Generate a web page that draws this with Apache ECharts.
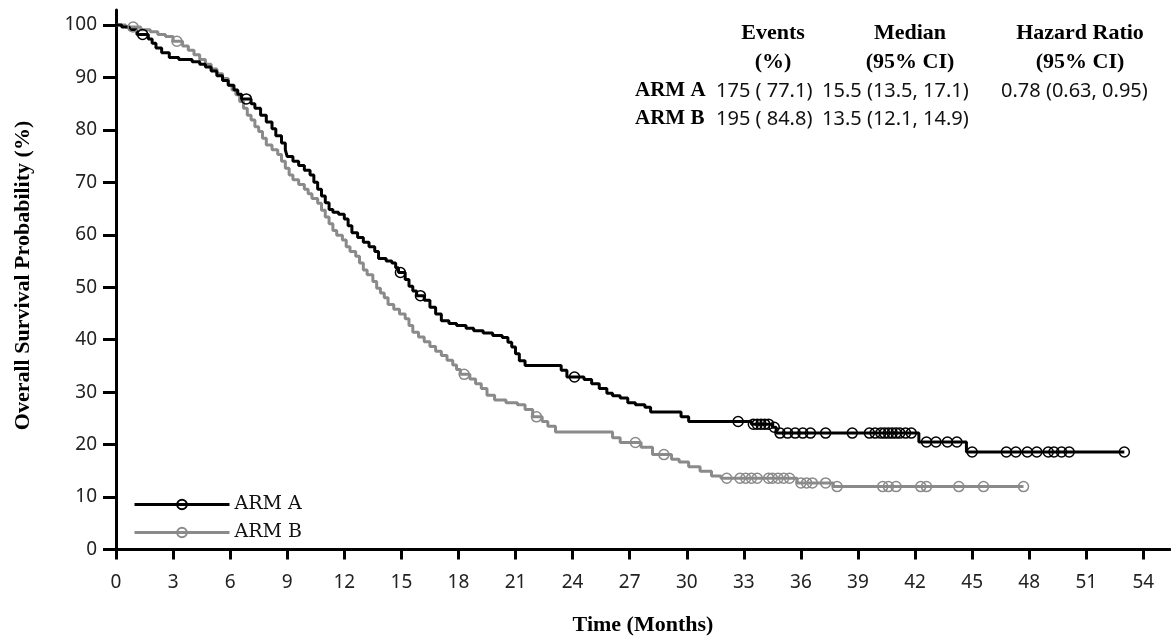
<!DOCTYPE html>
<html>
<head>
<meta charset="utf-8">
<title>Overall Survival</title>
<script src="https://cdn.jsdelivr.net/npm/echarts@6/dist/echarts.min.js"></script>
<style>
  html, body { margin: 0; padding: 0; background: #fff; }
  #chart { width: 1171px; height: 641px; }
</style>
</head>
<body>
<div id="chart"></div>
<script>
// KM step points [month, survival %]
var armACurve = [
  [0, 100], [0.3, 99.6], [0.7, 99.1], [1.1, 98.2], [1.7, 97.3], [1.9, 96.5], [2.1, 95.6],
  [2.4, 94.7], [2.8, 93.8], [3.3, 93.4], [4.0, 93.0], [4.4, 92.5], [4.7, 92.0], [5.0, 91.2],
  [5.3, 90.3], [5.6, 89.4], [5.9, 88.5], [6.2, 87.6], [6.4, 86.8], [6.6, 85.9], [7.1, 85.0],
  [7.3, 84.1], [7.6, 82.8], [7.9, 81.5], [8.2, 80.2], [8.4, 78.9], [8.7, 77.5], [8.9, 76.2],
  [9.0, 74.9], [9.3, 74.0], [9.6, 73.2], [9.9, 72.3], [10.2, 71.4], [10.4, 70.0], [10.6, 68.7],
  [10.8, 67.4], [11.0, 66.1], [11.2, 64.8], [11.4, 64.3], [11.7, 63.9], [12.0, 63.0], [12.2, 61.7],
  [12.4, 60.4], [12.7, 59.5], [13.0, 58.6], [13.3, 57.7], [13.6, 56.8], [13.8, 55.5], [14.2, 55.0],
  [14.5, 54.6], [14.7, 53.7], [14.85, 52.8], [15.2, 51.5], [15.4, 50.2], [15.6, 49.3], [15.8, 48.4],
  [16.2, 47.5], [16.5, 46.2], [16.8, 44.9], [17.1, 43.6], [17.5, 43.1], [17.9, 42.7], [18.4, 42.2],
  [18.8, 41.7], [19.3, 41.3], [19.8, 40.8], [20.3, 40.4], [20.6, 39.5], [20.8, 38.6], [21.0, 37.3],
  [21.2, 36.0], [21.5, 35.1], [23.4, 34.2], [23.7, 32.9], [24.6, 32.4], [25.0, 31.6], [25.4, 30.7],
  [25.8, 29.8], [26.1, 29.3], [26.5, 28.9], [26.9, 28.0], [27.3, 27.6], [27.8, 27.1], [28.1, 26.2],
  [29.7, 25.3], [30.1, 24.4], [33.4, 23.9], [34.5, 23.3], [34.7, 22.2], [42.2, 20.5], [44.7, 18.6],
  [53.0, 18.6]
]
var armBCurve = [
  [0, 100], [0.5, 99.6], [1.3, 99.1], [1.8, 98.7], [2.2, 98.2], [2.6, 97.8], [3.0, 96.9],
  [3.5, 96.0], [3.8, 95.2], [4.1, 94.3], [4.4, 93.4], [4.7, 92.5], [5.0, 91.6], [5.3, 90.7],
  [5.6, 89.8], [5.9, 88.5], [6.1, 87.6], [6.3, 86.7], [6.5, 85.4], [6.7, 84.1], [6.9, 82.8],
  [7.1, 81.9], [7.3, 80.6], [7.5, 79.7], [7.7, 78.4], [7.9, 77.1], [8.2, 76.2], [8.5, 75.3],
  [8.7, 74.0], [8.9, 72.7], [9.1, 71.4], [9.3, 70.5], [9.6, 69.6], [9.9, 68.7], [10.1, 67.8],
  [10.3, 66.9], [10.6, 66.0], [10.8, 64.7], [11.0, 63.4], [11.2, 62.1], [11.4, 60.8], [11.6, 59.9],
  [11.9, 59.0], [12.1, 57.7], [12.3, 56.8], [12.6, 55.9], [12.8, 54.6], [13.0, 53.3], [13.2, 52.4],
  [13.5, 51.1], [13.7, 49.8], [13.9, 48.9], [14.1, 48.0], [14.3, 46.7], [14.6, 45.8], [14.9, 44.9],
  [15.2, 44.0], [15.4, 42.7], [15.6, 41.4], [15.9, 40.5], [16.2, 39.6], [16.5, 38.7], [16.8, 37.8],
  [17.1, 37.0], [17.4, 36.1], [17.7, 35.2], [17.9, 34.3], [18.1, 33.4], [18.6, 32.5], [18.9, 31.6],
  [19.2, 30.7], [19.5, 29.4], [19.9, 28.5], [20.5, 28.0], [21.1, 27.6], [21.5, 26.7], [21.9, 25.3],
  [22.4, 24.4], [22.7, 23.5], [23.1, 22.4], [26.1, 21.3], [26.5, 20.4], [27.6, 19.5], [28.2, 18.1],
  [29.2, 17.2], [29.6, 16.7], [30.1, 15.8], [30.7, 14.9], [31.3, 14.0], [31.8, 13.6], [35.8, 12.7],
  [37.7, 12.0], [47.7, 12.0]
]
// censoring times (months)
var armACensor = [1.4, 6.85, 14.95, 16.0, 24.1, 32.7, 33.5, 33.7, 33.9, 34.1, 34.3, 34.6, 34.9, 35.3,
  35.7, 36.1, 36.5, 37.3, 38.7, 39.6, 39.9, 40.2, 40.4, 40.6, 40.8, 41.0, 41.2, 41.5, 41.8, 42.6,
  43.1, 43.7, 44.2, 45.0, 46.8, 47.3, 47.9, 48.4, 49.0, 49.3, 49.7, 50.1, 53.0]
var armBCensor = [0.9, 3.2, 18.3, 22.1, 27.3, 28.8, 32.1, 32.8, 33.1, 33.4, 33.7, 34.3, 34.5, 34.8,
  35.1, 35.4, 36.0, 36.3, 36.6, 37.3, 37.9, 40.3, 40.6, 41.0, 42.3, 42.6, 44.3, 45.6, 47.7]

var armNames = ['ARM A', 'ARM B']
var armColors = ['#000000', '#8a8a8a']
var xTicks = [0, 3, 6, 9, 12, 15, 18, 21, 24, 27, 30, 33, 36, 39, 42, 45, 48, 51, 54]
var yTicks = [0, 10, 20, 30, 40, 50, 60, 70, 80, 90, 100]

var tableHead1 = ['Events', 'Median', 'Hazard Ratio']
var tableHead2 = ['(%)', '(95% CI)', '(95% CI)']
var tableRowA = ['175 ( 77.1)', '15.5 (13.5, 17.1)', '0.78 (0.63, 0.95)']
var tableRowB = ['195 ( 84.8)', '13.5 (12.1, 14.9)', '']

// survival level at time t (step lookup)
function survAt(curve, t) {
  var s = curve[0][1]
  for (var i = 0; i < curve.length; i++) {
    if (curve[i][0] <= t) s = curve[i][1]
  }
  return s
}
function censorPoints(curve, times) {
  return times.map(function(t) { return [t, survAt(curve, t)] })
}

var chart = echarts.init(document.getElementById('chart'))

var serif = '"Liberation Serif", "Times New Roman", serif'
var sans = '"Noto Sans", "DejaVu Sans", sans-serif'

var headX = [773, 910, 1080]
var colX = [716, 822, 1001]
var graphics = []
tableHead1.forEach(function(t, i) {
  graphics.push({ type: 'text', x: headX[i], y: 33, style: { text: t, font: 'bold 22px ' + serif, fill: '#000', textAlign: 'center', textVerticalAlign: 'middle' } })
  graphics.push({ type: 'text', x: headX[i], y: 62, style: { text: tableHead2[i], font: 'bold 22px ' + serif, fill: '#000', textAlign: 'center', textVerticalAlign: 'middle' } })
})
;[tableRowA, tableRowB].forEach(function(row, r) {
  var y = 91 + r * 28
  graphics.push({ type: 'text', x: 635, y: y, style: { text: armNames[r], font: 'bold 21px ' + serif, fill: '#000', textAlign: 'left', textVerticalAlign: 'middle' } })
  row.forEach(function(t, i) {
    graphics.push({ type: 'text', x: colX[i], y: y, style: { text: t, font: '20px ' + sans, fill: '#111', textAlign: 'left', textVerticalAlign: 'middle' } })
  })
})

var option = {
  animation: false,
  backgroundColor: '#fff',
  grid: { left: 116, right: 1, top: 10, bottom: 86 },
  legend: {
    data: armNames,
    orient: 'vertical',
    left: 128,
    top: 490,
    itemWidth: 95,
    itemHeight: 12,
    itemGap: 9,
    lineStyle: { width: 3 },
    textStyle: { fontFamily: '"DejaVu Serif", serif', fontSize: 19, color: '#111' }
  },
  xAxis: {
    type: 'value',
    min: 0,
    max: 55.4,
    name: 'Time (Months)',
    nameLocation: 'middle',
    nameGap: 61,
    nameTextStyle: { fontFamily: serif, fontWeight: 'bold', fontSize: 22, color: '#000' },
    axisLine: { lineStyle: { color: '#000', width: 3 } },
    axisTick: { length: 10, lineStyle: { color: '#000', width: 3 }, customValues: xTicks },
    axisLabel: { customValues: xTicks, margin: 20, fontFamily: sans, fontSize: 19, color: '#222' },
    splitLine: { show: false }
  },
  yAxis: {
    type: 'value',
    min: -0.66,
    max: 102.85,
    name: 'Overall Survival Probability (%)',
    nameLocation: 'middle',
    nameRotate: 90,
    nameGap: 82,
    nameTextStyle: { fontFamily: serif, fontWeight: 'bold', fontSize: 22, color: '#000', padding: [0, 0, 0, 12] },
    axisLine: { lineStyle: { color: '#000', width: 3 } },
    axisTick: { length: 13, lineStyle: { color: '#000', width: 3 }, customValues: yTicks },
    axisLabel: { customValues: yTicks, margin: 19, fontFamily: sans, fontSize: 19, color: '#222' },
    splitLine: { show: false }
  },
  graphic: graphics,
  series: [
    {
      name: armNames[1],
      type: 'line',
      step: 'end',
      data: armBCurve,
      showSymbol: false,
      symbol: 'circle',
      symbolSize: 10,
      itemStyle: { color: 'rgba(255,255,255,0)', borderColor: armColors[1], borderWidth: 1.5 },
      lineStyle: { color: armColors[1], width: 3 },
      z: 2
    },
    {
      name: armNames[0],
      type: 'line',
      step: 'end',
      data: armACurve,
      showSymbol: false,
      symbol: 'circle',
      symbolSize: 10,
      itemStyle: { color: 'rgba(255,255,255,0)', borderColor: armColors[0], borderWidth: 1.5 },
      lineStyle: { color: armColors[0], width: 3 },
      z: 3
    },
    {
      name: 'ARM B censored',
      type: 'scatter',
      data: censorPoints(armBCurve, armBCensor),
      symbol: 'circle',
      symbolSize: 10,
      itemStyle: { color: 'rgba(255,255,255,0)', borderColor: armColors[1], borderWidth: 1.5, opacity: 1 },
      z: 4
    },
    {
      name: 'ARM A censored',
      type: 'scatter',
      data: censorPoints(armACurve, armACensor),
      symbol: 'circle',
      symbolSize: 10,
      itemStyle: { color: 'rgba(255,255,255,0)', borderColor: armColors[0], borderWidth: 1.5, opacity: 1 },
      z: 5
    }
  ]
}
chart.setOption(option)
window.addEventListener('resize', function() {
  chart.resize()
})
</script>
</body>
</html>
